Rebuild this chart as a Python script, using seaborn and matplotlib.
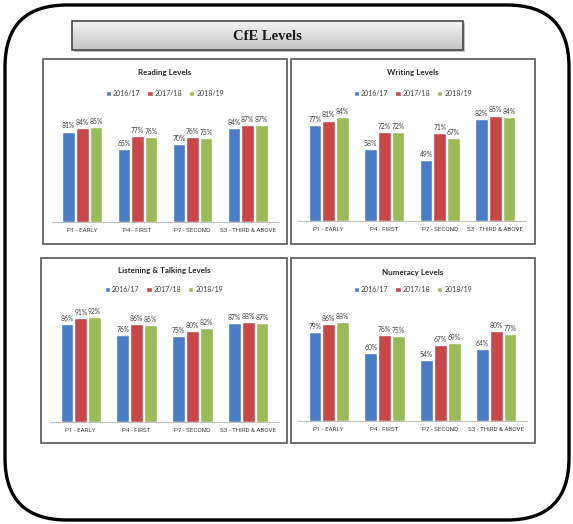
import numpy as np
import pandas as pd
import matplotlib
matplotlib.use("Agg")
import matplotlib.pyplot as plt
from matplotlib.patches import FancyBboxPatch, Rectangle
from matplotlib import font_manager
import seaborn as sns

# ---- data -------------------------------------------------------------
stages = ["P1 - EARLY", "P4 - FIRST", "P7 - SECOND", "S3 - THIRD & ABOVE"]
years = ["2016/17", "2017/18", "2018/19"]

reading_1617 = [81, 65, 70, 84]
reading_1718 = [84, 77, 76, 87]
reading_1819 = [85, 76, 75, 87]

writing_1617 = [77, 58, 49, 82]
writing_1718 = [81, 72, 71, 85]
writing_1819 = [84, 72, 67, 84]

listening_1617 = [86, 76, 75, 87]
listening_1718 = [91, 86, 80, 88]
listening_1819 = [92, 85, 82, 87]

numeracy_1617 = [79, 60, 54, 64]
numeracy_1718 = [86, 76, 67, 80]
numeracy_1819 = [88, 75, 69, 77]

main_title = "CfE Levels"
panel_titles = ["Reading Levels", "Writing Levels",
                "Listening & Talking Levels", "Numeracy Levels"]

colors = ["#4A7DC6", "#C8474A", "#9BBB59"]
text_col = "#404040"


def long_frame(s1, s2, s3):
    rows = []
    for yr, vals in zip(years, (s1, s2, s3)):
        for st, v in zip(stages, vals):
            rows.append({"stage": st, "year": yr, "pct": v})
    return pd.DataFrame(rows)


panel_data = [
    long_frame(reading_1617, reading_1718, reading_1819),
    long_frame(writing_1617, writing_1718, writing_1819),
    long_frame(listening_1617, listening_1718, listening_1819),
    long_frame(numeracy_1617, numeracy_1718, numeracy_1819),
]

# ---- layout (pixel units, y measured from top) -------------------------
W, H = 573, 524
# frame box, axes left/right, baseline, height of 0-100 span, title y, legend y
layout = [
    ((43, 59, 287, 244), 52, 278, 222.0, 111.7, 72, 93),
    ((291, 59, 535, 244), 298, 526, 220.7, 123.7, 72, 93),
    ((41, 258, 287, 443), 50, 279, 421.7, 113.7, 271, 289),
    ((291, 258, 535, 443), 298, 527, 420.7, 112.5, 272, 289),
]

sns.set_theme(style="white")
plt.rcParams["font.family"] = ["Lato", "DejaVu Sans"]

# narrow face for the category labels, if available
installed = {f.name for f in font_manager.fontManager.ttflist}
narrow = "Liberation Sans Narrow" if "Liberation Sans Narrow" in installed else "Roboto"
tick_size = 5.0 if narrow == "Liberation Sans Narrow" else 4.5

fig = plt.figure(figsize=(W / 100, H / 100), dpi=100)
fig.patch.set_facecolor("white")

# background canvas in pixel coordinates
bg = fig.add_axes([0, 0, 1, 1], zorder=0)
bg.set_xlim(0, W)
bg.set_ylim(H, 0)
bg.axis("off")

outer = FancyBboxPatch((5, 5), 564, 515,
                       boxstyle="round,pad=0,rounding_size=62",
                       lw=2.4, ec="black", fc="white")
bg.add_patch(outer)

# header bar with shadow and vertical gradient
bg.add_patch(Rectangle((74, 23), 391, 29, fc="#9a9a9a", ec="none", alpha=0.6))
grad = np.linspace(0, 1, 64).reshape(-1, 1)
bg.imshow(grad, cmap=matplotlib.colors.LinearSegmentedColormap.from_list(
    "hdr", ["#f4f4f4", "#c4c4c4"]), extent=(72, 463, 50, 21),
    aspect="auto", zorder=2)
bg.add_patch(Rectangle((72, 21), 391, 29, fc="none", ec="#3a3a3a", lw=1.1, zorder=3))
bg.text((72 + 463) / 2, 36, main_title, ha="center", va="center",
        fontsize=10.5, fontweight="bold", family="Liberation Serif",
        color="#1a1a1a", zorder=4)

for df, title, (frame, xl, xr, base, hgt, ty, ly) in zip(panel_data, panel_titles, layout):
    fx0, fy0, fx1, fy1 = frame
    bg.add_patch(Rectangle((fx0, fy0), fx1 - fx0, fy1 - fy0,
                           fc="white", ec="#6e6e6e", lw=1.4, zorder=1))
    bg.text((fx0 + fx1) / 2, ty, title, ha="center", va="center",
            fontsize=5.8, fontweight="bold", color="#262626", zorder=4)

    ax = fig.add_axes([xl / W, 1 - base / H, (xr - xl) / W, hgt / H], zorder=2)
    ax.patch.set_alpha(0)
    sns.barplot(data=df, x="stage", y="pct", hue="year", order=stages,
                hue_order=years, palette=colors, width=0.74, gap=0.08,
                saturation=1, ax=ax, legend=True)
    for cont in ax.containers:
        ax.bar_label(cont, fmt="%d%%", padding=1.5, fontsize=4.9, color=text_col)
    ax.set_ylim(0, 100)
    ax.set_xlim(-0.55, 3.55)
    ax.set_xlabel("")
    ax.set_ylabel("")
    ax.set_yticks([])
    for side in ("top", "right", "left"):
        ax.spines[side].set_visible(False)
    ax.spines["bottom"].set_color("#bfbfbf")
    ax.spines["bottom"].set_linewidth(0.8)
    ax.tick_params(axis="x", length=0, pad=4.5, labelcolor=text_col)
    for lab in ax.get_xticklabels():
        lab.set_fontfamily(narrow)
        lab.set_fontsize(tick_size)

    handles, labels = ax.get_legend_handles_labels()
    ax.legend(handles, labels, loc="center", ncol=3, frameon=False,
              bbox_to_anchor=(((fx0 + fx1) / 2) / W, 1 - ly / H),
              bbox_transform=fig.transFigure, fontsize=5.0,
              handlelength=0.75, handleheight=0.75, handletextpad=0.3,
              columnspacing=1.0, labelcolor=text_col)

fig.savefig("out.png", dpi=100, facecolor="white")
